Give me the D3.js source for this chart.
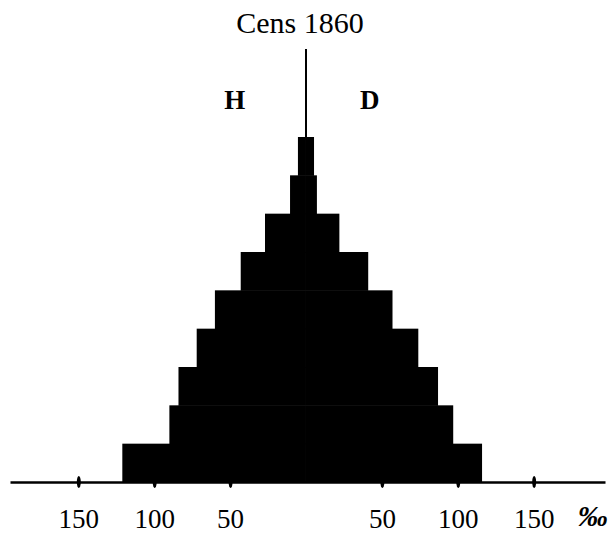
<!DOCTYPE html>
<html>
<head>
<meta charset="utf-8">
<script src="https://cdn.jsdelivr.net/npm/d3@7"></script>
<style>
  html, body { margin: 0; padding: 0; background: #fff; }
  svg { display: block; }
  text { font-family: "Liberation Serif", "DejaVu Serif", serif; fill: #000; }
</style>
</head>
<body>
<div id="chart"></div>
<script>
// age groups, youngest first (bottom of the pyramid)
const ages = ['0-9', '10-19', '20-29', '30-39', '40-49', '50-59', '60-69', '70-79', '80+'];
// per mille of total population
const men = [121, 90, 84, 72, 60, 43, 27, 10.5, 5.3];     // H, left side
const women = [116, 97, 87, 74, 57, 41, 22, 7.2, 5.3];    // D, right side
const tickVals = [-150, -100, -50, 50, 100, 150];

const width = 608, height = 534;

const svg = d3.select('#chart')
  .append('svg')
  .attr('width', width)
  .attr('height', height);

const x = d3.scaleLinear()
  .domain([-195, 197])
  .range([10, 605]);

const y = d3.scaleBand()
  .domain(ages)
  .range([482, 137])
  .padding(0);

// pyramid bars
svg.append('g')
  .selectAll('rect.men')
  .data(ages)
  .join('rect')
  .attr('x', (d, i) => x(-men[i]))
  .attr('y', d => y(d))
  .attr('width', (d, i) => x(0) - x(-men[i]))
  .attr('height', y.bandwidth() + 0.5)
  .attr('fill', '#000');

svg.append('g')
  .selectAll('rect.women')
  .data(ages)
  .join('rect')
  .attr('x', x(0))
  .attr('y', d => y(d))
  .attr('width', (d, i) => x(women[i]) - x(0))
  .attr('height', y.bandwidth() + 0.5)
  .attr('fill', '#000');

// centre line up to the title
svg.append('line')
  .attr('x1', x(0)).attr('x2', x(0))
  .attr('y1', 49).attr('y2', y(ages[ages.length - 1]))
  .attr('stroke', '#000')
  .attr('stroke-width', 2);

// x axis
const axis = svg.append('g')
  .attr('transform', `translate(0,${y.range()[0]})`)
  .call(d3.axisBottom(x).tickValues(tickVals).tickSize(0).tickFormat(d => Math.abs(d)));

axis.select('.domain')
  .attr('stroke', '#000')
  .attr('stroke-width', 2.5);

axis.selectAll('.tick text')
  .attr('y', 46)
  .attr('dy', 0)
  .style('font-family', '"Liberation Serif", serif')
  .style('font-size', '27px')
  .attr('fill', '#000');

axis.selectAll('.tick')
  .append('ellipse')
  .attr('cx', 0).attr('cy', 0)
  .attr('rx', 2).attr('ry', 6)
  .attr('fill', '#000');

// per mille sign
svg.append('text')
  .attr('x', x(189))
  .attr('y', 526)
  .attr('text-anchor', 'middle')
  .style('font-size', '30px')
  .style('font-weight', 'bold')
  .style('font-style', 'italic')
  .text('‰');

// title and sex labels
svg.append('text')
  .attr('x', x(-4))
  .attr('y', 33)
  .attr('text-anchor', 'middle')
  .style('font-size', '30px')
  .text('Cens 1860');

svg.append('text')
  .attr('x', x(-47))
  .attr('y', 109)
  .attr('text-anchor', 'middle')
  .style('font-size', '27px')
  .style('font-weight', 'bold')
  .text('H');

svg.append('text')
  .attr('x', x(42))
  .attr('y', 109)
  .attr('text-anchor', 'middle')
  .style('font-size', '27px')
  .style('font-weight', 'bold')
  .text('D');
</script>
</body>
</html>
